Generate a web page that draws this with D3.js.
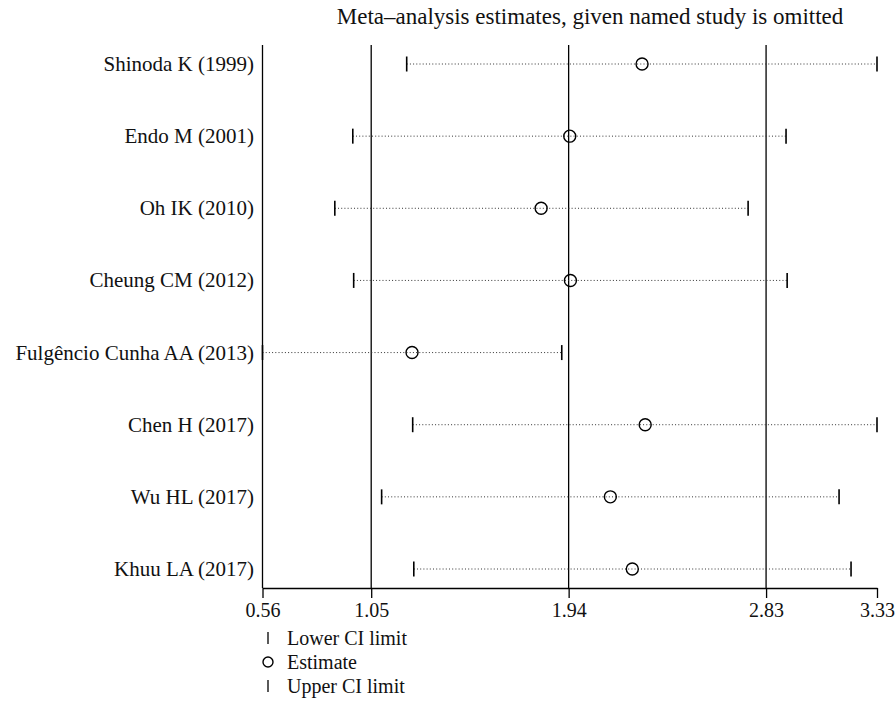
<!DOCTYPE html>
<html>
<head>
<meta charset="utf-8">
<script src="https://cdn.jsdelivr.net/npm/d3@7"></script>
<style>
  html, body { margin: 0; padding: 0; background: #fff; }
  svg { display: block; }
  text { font-family: "Liberation Serif", "DejaVu Serif", serif; fill: #111; }
</style>
</head>
<body>
<svg id="chart" width="895" height="720"></svg>
<script>
const studies = ["Shinoda K (1999)", "Endo M (2001)", "Oh IK (2010)", "Cheung CM (2012)",
  "Fulgêncio Cunha AA (2013)", "Chen H (2017)", "Wu HL (2017)", "Khuu LA (2017)"];
const lowerCI = [1.21, 0.967, 0.886, 0.971, 0.56, 1.237, 1.097, 1.242];
const estimate = [2.271, 1.945, 1.816, 1.948, 1.234, 2.285, 2.128, 2.227];
const upperCI = [3.33, 2.92, 2.749, 2.925, 1.909, 3.33, 3.159, 3.213];
const tickValues = [0.56, 1.05, 1.94, 2.83, 3.33];
const refLines = [1.05, 1.94, 2.83];
const title = "Meta\u2013analysis estimates, given named study is omitted";
const legendItems = ["Lower CI limit", "Estimate", "Upper CI limit"];

const FS = 21;
const svg = d3.select("#chart");
const x = d3.scaleLinear().domain([0.56, 3.33]).range([262.5, 877]);
const y = d3.scalePoint().domain(studies).range([64, 569]);
const plotTop = 45, axisY = 588;

svg.append("text").attr("x", 590).attr("y", 24).attr("text-anchor", "middle")
  .attr("font-size", 23).text(title);

// left frame line and reference lines
svg.append("line").attr("x1", x(0.56)).attr("x2", x(0.56)).attr("y1", plotTop).attr("y2", axisY)
  .attr("stroke", "#000").attr("stroke-width", 1.3);
svg.selectAll(".ref").data(refLines).enter().append("line")
  .attr("x1", d => x(d)).attr("x2", d => x(d)).attr("y1", plotTop).attr("y2", axisY)
  .attr("stroke", "#000").attr("stroke-width", 1.3);

// axis
const axis = d3.axisBottom(x).tickValues(tickValues).tickFormat(d3.format(".2f"))
  .tickSize(10).tickSizeOuter(0).tickPadding(5);
const gA = svg.append("g").attr("transform", `translate(0,${axisY})`).call(axis);
gA.select(".domain").attr("stroke", "#000").attr("stroke-width", 1.3);
gA.selectAll(".tick line").attr("stroke", "#000").attr("stroke-width", 1.3);
gA.selectAll(".tick text").attr("font-size", 20).attr("font-family", "Liberation Serif").attr("fill", "#111");

const rows = studies.map((s, i) => ({ s, lo: lowerCI[i], est: estimate[i], hi: upperCI[i] }));
const g = svg.selectAll(".row").data(rows).enter().append("g");

g.append("text").attr("x", 254).attr("y", d => y(d.s)).attr("dy", "0.33em")
  .attr("text-anchor", "end").attr("font-size", FS).text(d => d.s);

g.append("line").attr("x1", d => x(d.lo)).attr("x2", d => x(d.hi))
  .attr("y1", d => y(d.s)).attr("y2", d => y(d.s))
  .attr("stroke", "#333").attr("stroke-width", 1).attr("stroke-dasharray", "1,2.2");

g.append("line").attr("x1", d => x(d.lo)).attr("x2", d => x(d.lo))
  .attr("y1", d => y(d.s) - 7.5).attr("y2", d => y(d.s) + 7.5)
  .attr("stroke", "#000").attr("stroke-width", 1.6);
g.append("line").attr("x1", d => x(d.hi)).attr("x2", d => x(d.hi))
  .attr("y1", d => y(d.s) - 7.5).attr("y2", d => y(d.s) + 7.5)
  .attr("stroke", "#000").attr("stroke-width", 1.6);

g.append("circle").attr("cx", d => x(d.est)).attr("cy", d => y(d.s)).attr("r", 6)
  .attr("fill", "none").attr("stroke", "#000").attr("stroke-width", 1.4);

// legend
const lg = svg.append("g");
legendItems.forEach((t, i) => {
  const ly = 638 + i * 24;
  if (i === 1) {
    lg.append("circle").attr("cx", 268).attr("cy", ly).attr("r", 5)
      .attr("fill", "none").attr("stroke", "#000").attr("stroke-width", 1.4);
  } else {
    lg.append("line").attr("x1", 268).attr("x2", 268).attr("y1", ly - 6).attr("y2", ly + 6)
      .attr("stroke", "#000").attr("stroke-width", 1.3);
  }
  lg.append("text").attr("x", 287).attr("y", ly).attr("dy", "0.33em")
    .attr("font-size", 20).text(t);
});
</script>
</body>
</html>
